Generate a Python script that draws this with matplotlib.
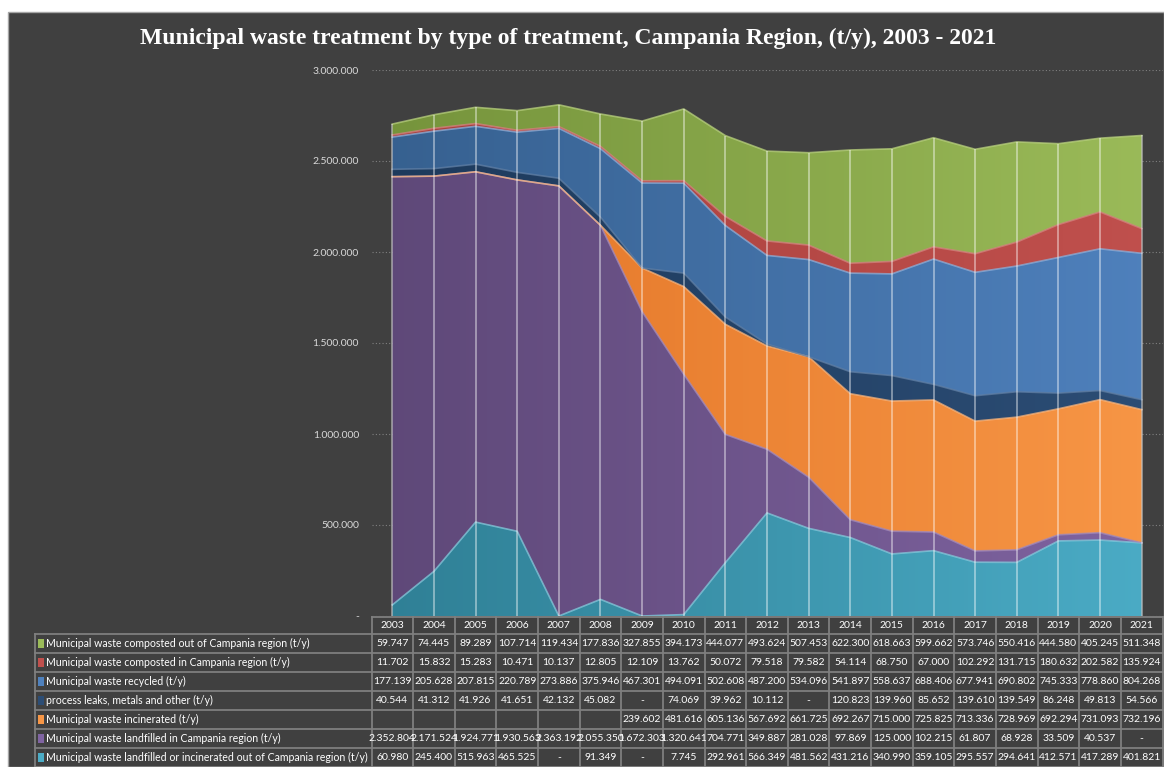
import numpy as np
import matplotlib
matplotlib.use('Agg')
import matplotlib.pyplot as plt
from matplotlib.colors import LinearSegmentedColormap
from matplotlib.patches import Rectangle
from matplotlib.transforms import blended_transform_factory

years = list(range(2003, 2022))

# None = empty cell, 0 = "-"
composted_out = [59747, 74445, 89289, 107714, 119434, 177836, 327855, 394173, 444077, 493624,
                 507453, 622300, 618663, 599662, 573746, 550416, 444580, 405245, 511348]
composted_in = [11702, 15832, 15283, 10471, 10137, 12805, 12109, 13762, 50072, 79518,
                79582, 54114, 68750, 67000, 102292, 131715, 180632, 202582, 135924]
recycled = [177139, 205628, 207815, 220789, 273886, 375946, 467301, 494091, 502608, 487200,
            534096, 541897, 558637, 688406, 677941, 690802, 745333, 778860, 804268]
leaks = [40544, 41312, 41926, 41651, 42132, 45082, 0, 74069, 39962, 10112,
         0, 120823, 139960, 85652, 139610, 139549, 86248, 49813, 54566]
incinerated = [None, None, None, None, None, None, 239602, 481616, 605136, 567692,
               661725, 692267, 715000, 725825, 713336, 728969, 692294, 731093, 732196]
landfilled_in = [2352804, 2171524, 1924771, 1930563, 2363192, 2055350, 1672303, 1320641, 704771, 349887,
                 281028, 97869, 125000, 102215, 61807, 68928, 33509, 40537, 0]
landfilled_out = [60980, 245400, 515963, 465525, 0, 91349, 0, 7745, 292961, 566349,
                  481562, 431216, 340990, 359105, 295557, 294641, 412571, 417289, 401821]

labels = [
    'Municipal waste composted out of Campania region (t/y)',
    'Municipal waste composted in Campania region (t/y)',
    'Municipal waste recycled (t/y)',
    'process leaks, metals and other (t/y)',
    'Municipal waste incinerated (t/y)',
    'Municipal waste landfilled in Campania region (t/y)',
    'Municipal waste landfilled or incinerated out of Campania region (t/y)',
]
rows = [composted_out, composted_in, recycled, leaks, incinerated, landfilled_in, landfilled_out]
# (dark left, light right)
colors = [('#75933b', '#9bbb59'), ('#a8403d', '#c0504d'), ('#36608f', '#4f81bd'),
          ('#1d3a5c', '#2c4d75'), ('#e27426', '#f79646'), ('#5e4878', '#8064a2'),
          ('#2f7f95', '#4bacc6')]
edge_cols = ['#b8d07e', '#d98280', '#8fb1dc', '#5f7fa6', '#fbb77f', '#a48cc2', '#86cde0']

W, H = 1164, 767
fig = plt.figure(figsize=(W / 100, H / 100), dpi=100, facecolor='white')
fig.patches.append(Rectangle((8 / W, 0), 1 - 8 / W, 1 - 12 / H, transform=fig.transFigure,
                             facecolor='#404040', edgecolor='#a6a6a6', lw=1, zorder=-5))

x0, x1, ytop, ybot = 371.5, 1162.5, 70, 616
ax = fig.add_axes([x0 / W, 1 - ybot / H, (x1 - x0) / W, (ybot - ytop) / H])
ax.set_facecolor('none')
x = np.arange(len(years))

ymax = 3000000
base = np.zeros(len(years))
n = len(rows)
grad = np.linspace(0, 1, 256).reshape(1, -1)
for k in range(n - 1, -1, -1):
    vals = np.array([v if v is not None else 0 for v in rows[k]], dtype=float)
    top = base + vals
    poly = ax.fill_between(x, base, top, color=colors[k][1], lw=0, zorder=2)
    poly.set_visible(False)
    cmap = LinearSegmentedColormap.from_list('g%d' % k, list(colors[k]))
    im = ax.imshow(grad, extent=[-0.5, 18.5, 0, ymax], aspect='auto', cmap=cmap,
                   zorder=2, interpolation='bilinear')
    im.set_clip_path(poly.get_paths()[0], transform=ax.transData)
    if vals.sum() > 0:
        ax.plot(x, top, color=edge_cols[k], lw=1.2, alpha=0.75, zorder=3)
    base = top

# drop lines
ax.vlines(x, 0, base, color='white', alpha=0.45, lw=1.3, zorder=4)

ax.set_xlim(-0.5, len(years) - 0.5)
ax.set_ylim(0, ymax)
ax.set_yticks(np.arange(0, ymax + 1, 500000))
ax.set_yticklabels(['-'] + [f'{int(v):,}'.replace(',', '.') for v in np.arange(500000, ymax + 1, 500000)])
ax.tick_params(axis='y', length=0, pad=9, labelcolor='#d9d9d9', labelsize=7.5)
for t in ax.get_yticklabels():
    t.set_fontfamily('Lato')
ax.set_xticks([])
ax.grid(axis='y', color='#808080', ls=(0, (1, 2)), lw=0.8, zorder=0)
ax.set_axisbelow(True)
for s in ax.spines.values():
    s.set_visible(False)

fig.text(568 / W, 1 - 38 / H,
         'Municipal waste treatment by type of treatment, Campania Region, (t/y), 2003 - 2021',
         ha='center', va='center', color='white', fontsize=17, fontweight='bold',
         fontfamily='Liberation Serif')

# data table
tr = blended_transform_factory(ax.transData, fig.transFigure)
fy = lambda p: 1 - p / H
grid_col = '#7f7f7f'
head_top, head_bot = 617, 634
row_h = 19
table_bot = head_bot + row_h * n
for i, yr in enumerate(years):
    fig.text(i, fy((head_top + head_bot) / 2), str(yr), transform=tr, ha='center', va='center',
             color='white', fontsize=7.5, fontfamily='Lato')
for r, (lab, vals) in enumerate(zip(labels, rows)):
    yc = fy(head_bot + row_h * r + row_h / 2)
    fig.patches.append(Rectangle((38 / W, yc - 4.5 / H), 6 / W, 9 / H, transform=fig.transFigure,
                                 facecolor=colors[r][1], lw=0, zorder=3))
    fig.text(46 / W, yc, lab, ha='left', va='center', color='white', fontsize=7.6, fontfamily='Lato')
    for i, v in enumerate(vals):
        s = '' if v is None else ('-' if v == 0 else f'{v:,}'.replace(',', '.'))
        fig.text(i, yc, s, transform=tr, ha='center', va='center', color='white',
                 fontsize=7.5, fontfamily='Lato')

# table grid lines
for i in range(len(years) + 1):
    fig.add_artist(plt.Line2D([i - 0.5, i - 0.5], [fy(head_top), fy(table_bot)], transform=tr,
                              color=grid_col, lw=1.3))
fig.add_artist(plt.Line2D([x0 / W, x1 / W], [fy(head_top), fy(head_top)], color=grid_col, lw=1.3))
for r in range(n + 1):
    yy = fy(head_bot + row_h * r)
    fig.add_artist(plt.Line2D([35 / W, x1 / W], [yy, yy], color=grid_col, lw=1.3))
fig.add_artist(plt.Line2D([35 / W, 35 / W], [fy(head_bot), fy(table_bot)], color=grid_col, lw=1.3))

fig.savefig('out.png', dpi=100, facecolor='white')
